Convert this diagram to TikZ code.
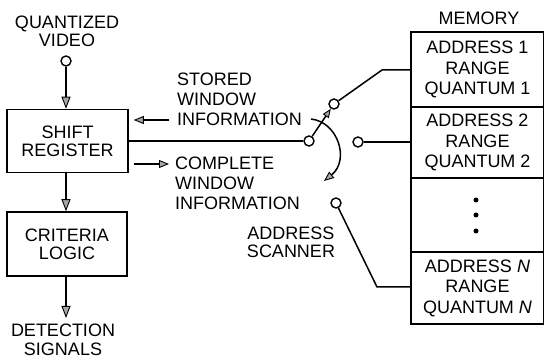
\documentclass[tikz,border=0pt]{standalone}
\usepackage{fontspec}
\setmainfont{Liberation Sans}
\usetikzlibrary{arrows.meta}
\tikzset{
  lbl/.style={font=\fontsize{18}{20}\selectfont, inner sep=0pt, align=center},
  tight/.style={font=\fontsize{18}{18}\selectfont},
  blk/.style={draw, line width=1.5pt, inner sep=0pt, align=center, font=\fontsize{18}{18}\selectfont},
  memb/.style={draw, line width=1.5pt, inner sep=0pt, align=center, minimum width=133pt, font=\fontsize{18}{20.5}\selectfont},
  term/.style={circle, draw, line width=1.4pt, minimum size=10pt, inner sep=0pt, fill=white},
  dotn/.style={circle, fill=black, minimum size=5pt, inner sep=0pt},
  wire/.style={line width=1.5pt},
  arr/.style={wire, -{Triangle[length=12pt,width=9pt,fill=gray!70,line width=0.9pt]}},
  arrs/.style={wire, -{Triangle[length=10pt,width=8pt,fill=gray!70,line width=0.9pt]}}
}
\begin{document}
\begin{tikzpicture}[x=1pt,y=-1pt]
\useasboundingbox (0,0) rectangle (544,358);

% left column
\node[lbl, tight, anchor=north] (quant) at (67,16) {QUANTIZED\\VIDEO};
\node[term] (vin) at (66,61) {};
\node[blk, minimum width=121pt, minimum height=63pt] (shift) at (67.5,141) {SHIFT\\REGISTER};
\node[blk, minimum width=120pt, minimum height=64pt] (crit) at (67,244) {CRITERIA\\LOGIC};
\node[lbl, font=\fontsize{18}{18.5}\selectfont, anchor=north, inner ysep=6pt] (det) at (63,318) {DETECTION\\SIGNALS};

\draw[arr] (vin) -- (vin |- shift.north);
\draw[arr] (shift.south -| vin) -- (crit.north -| vin);
\draw[arr] (crit.south -| vin) -- (det.north -| vin);

% window information labels
\node[lbl, align=left, anchor=north west] (stored) at (177,73) {STORED\\WINDOW\\INFORMATION};
\node[lbl, align=left, anchor=north west] (complete) at (175,157) {COMPLETE\\WINDOW\\INFORMATION};
\coordinate (sa) at (169,120);
\coordinate (ca) at (169,164);
\draw[arrs] (sa) -- ([xshift=5pt]shift.east |- sa);
\draw[arrs] ([xshift=5pt]shift.east |- ca) -- (ca);

% switch
\node[term] (A) at (309,141) {};
\node[term] (B) at (334,104) {};
\node[term] (C) at (358,142) {};
\node[term] (D) at (336,203) {};
\draw[wire] (shift.east) -- (A);
\draw[wire, -{Triangle[length=9pt,width=7pt,fill=gray!70,line width=0.9pt]}] (A) -- (B);
\coordinate (arcS) at (311,119);
\coordinate (arcE) at (324,181);
\draw[arrs] (arcS) .. controls (338,122) and (350,160) .. (arcE);

\node[lbl, tight, anchor=north] (scan) at (291,227) {ADDRESS\\SCANNER};

% memory
\node[lbl, anchor=north] (memlbl) at (479,12) {MEMORY};
\node[memb, minimum height=75pt] (m1) at (477.5,69.5) {ADDRESS 1\\RANGE\\QUANTUM 1};
\node[memb, minimum height=71pt] (m2) at (477.5,142.5) {ADDRESS 2\\RANGE\\QUANTUM 2};
\node[memb, minimum height=74pt] (md) at (477.5,215) {};
\node[memb, minimum height=72pt] (mN) at (477.5,288) {ADDRESS \textit{N}\\RANGE\\QUANTUM \textit{N}};
\node[dotn] (d1) at (476,200) {};
\node[dotn] (d2) at (476,215) {};
\node[dotn] (d3) at (476,231) {};

\coordinate (bk) at (382,70);
\coordinate (dk) at (377,287);
\draw[wire] (B) -- (bk) -- (bk -| m1.west);
\draw[wire] (C) -- (C -| m2.west);
\draw[wire] (D) -- (dk) -- (dk -| mN.west);
\end{tikzpicture}
\end{document}
